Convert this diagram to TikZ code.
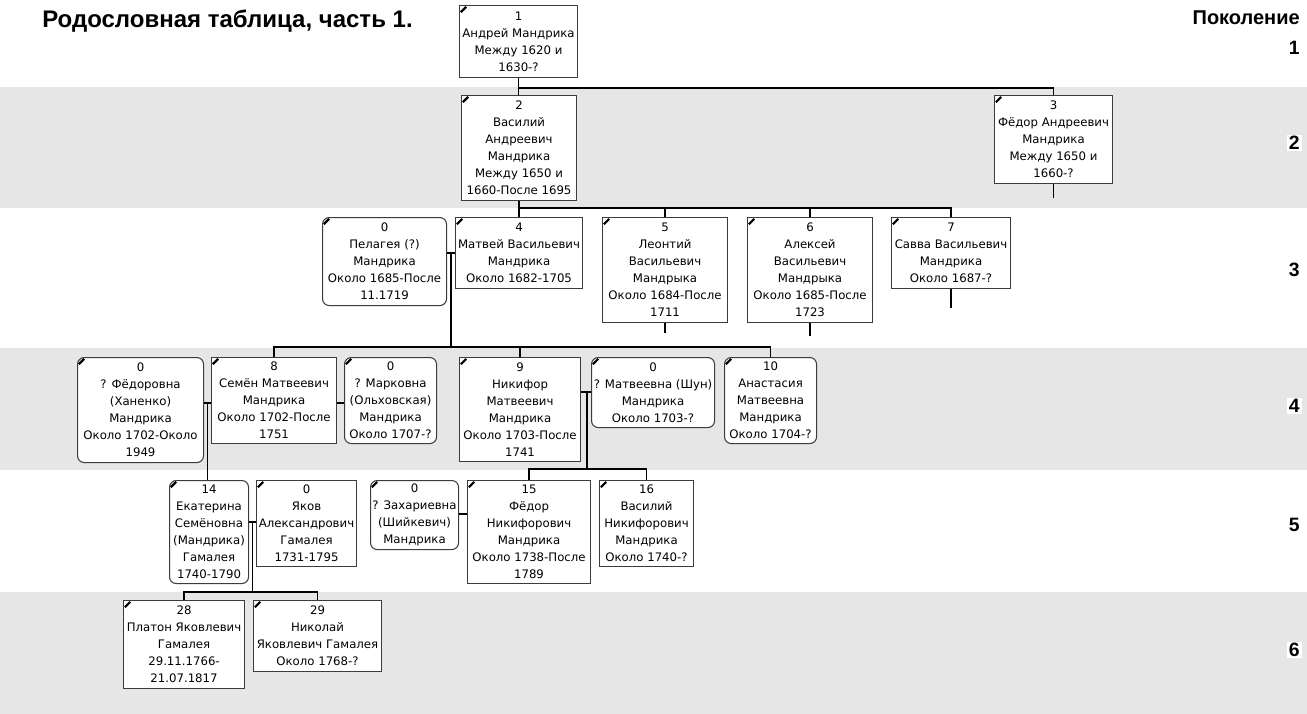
\documentclass[tikz,border=0pt]{standalone}
\usepackage{fontspec}
\setmainfont{DejaVu Sans}
\newfontfamily\headfont{Liberation Sans}
\usetikzlibrary{calc}
\definecolor{band}{RGB}{230,230,230}
\definecolor{boxline}{RGB}{60,60,60}
\tikzset{
  person/.style={draw=boxline, fill=white, line width=0.8pt, align=center,
    anchor=north west, inner sep=0pt,
    font=\fontsize{8.8pt}{12.75pt}\selectfont},
  spouse/.style={person, rounded corners=5pt},
  link/.style={draw=black, line width=1.2pt},
  cornermark/.style={draw=black, line width=1.6pt},
  gennum/.style={anchor=east, inner xsep=1.5pt, inner ysep=1pt,
    font=\headfont\bfseries\fontsize{14.5pt}{16pt}\selectfont},
}
\newcommand\pers[7]{%
  \node[#1, minimum width=#5*0.75pt, minimum height=#6*0.75pt] (#2) at (#3,#4) {#7};
  \draw[cornermark] ([shift={(1.8,7.2)}]#2.north west) -- ([shift={(7.2,1.8)}]#2.north west);
}
\begin{document}
\begin{tikzpicture}[x=0.75pt,y=-0.75pt]
\useasboundingbox (0,0) rectangle (1307,714);
% bands
\fill[band] (0,87) rectangle (1307,208);
\fill[band] (0,348) rectangle (1307,470);
\fill[band] (0,592) rectangle (1307,714);

% title and generation labels
\node[anchor=base west, inner sep=0pt, font=\headfont\bfseries\fontsize{18pt}{20pt}\selectfont] (title) at (42,27) {Родословная таблица, часть 1.};
\node[anchor=base east, inner sep=0pt, font=\headfont\bfseries\fontsize{15pt}{17pt}\selectfont] (gen) at (1300,24) {Поколение};
\node[gennum] (g1) at (1302,48) {1};
\node[gennum, fill=white] (g2) at (1302,143) {2};
\node[gennum] (g3) at (1302,270) {3};
\node[gennum, fill=white] (g4) at (1302,406) {4};
\node[gennum] (g5) at (1302,525) {5};
\node[gennum, fill=white] (g6) at (1302,650) {6};

% generation 1
\pers{person}{n1}{459}{5}{118}{72}{1\\Андрей Мандрика\\Между 1620 и\\1630-?}
% generation 2
\pers{person}{n2}{461}{95}{115}{105}{2\\Василий\\Андреевич\\Мандрика\\Между 1650 и\\1660-После 1695}
\pers{person}{n3}{994}{95}{118}{88}{3\\Фёдор Андреевич\\Мандрика\\Между 1650 и\\1660-?}
% generation 3
\pers{spouse}{p0}{322}{217}{124}{88}{0\\Пелагея (?)\\Мандрика\\Около 1685-После\\11.1719}
\pers{person}{n4}{455}{217}{127}{71}{4\\Матвей Васильевич\\Мандрика\\Около 1682-1705}
\pers{person}{n5}{602}{217}{125}{105}{5\\Леонтий\\Васильевич\\Мандрыка\\Около 1684-После\\1711}
\pers{person}{n6}{747}{217}{125}{105}{6\\Алексей\\Васильевич\\Мандрыка\\Около 1685-После\\1723}
\pers{person}{n7}{891}{217}{119}{71}{7\\Савва Васильевич\\Мандрика\\Около 1687-?}
% generation 4
\pers{spouse}{f0}{77}{357}{126}{105}{0\\? Фёдоровна\\(Ханенко)\\Мандрика\\Около 1702-Около\\1949}
\pers{person}{n8}{211}{357}{125}{86}{8\\Семён Матвеевич\\Мандрика\\Около 1702-После\\1751}
\pers{spouse}{m0}{344}{357}{92}{86}{0\\? Марковна\\(Ольховская)\\Мандрика\\Около 1707-?}
\pers{person}{n9}{459}{357}{121}{104}{9\\Никифор\\Матвеевич\\Мандрика\\Около 1703-После\\1741}
\pers{spouse}{s0}{591}{357}{123}{70}{0\\? Матвеевна (Шун)\\Мандрика\\Около 1703-?}
\pers{spouse}{n10}{724}{357}{92}{86}{10\\Анастасия\\Матвеевна\\Мандрика\\Около 1704-?}
% generation 5
\pers{spouse}{n14}{169}{480}{79}{103}{14\\Екатерина\\Семёновна\\(Мандрика)\\Гамалея\\1740-1790}
\pers{person}{y0}{256}{480}{100}{86}{0\\Яков\\Александрович\\Гамалея\\1731-1795}
\pers{spouse}{z0}{370}{480}{88}{69}{0\\? Захариевна\\(Шийкевич)\\Мандрика}
\pers{person}{n15}{467}{480}{123}{103}{15\\Фёдор\\Никифорович\\Мандрика\\Около 1738-После\\1789}
\pers{person}{n16}{599}{480}{94}{86}{16\\Василий\\Никифорович\\Мандрика\\Около 1740-?}
% generation 6
\pers{person}{n28}{123}{600}{121}{88}{28\\Платон Яковлевич\\Гамалея\\29.11.1766-\\21.07.1817}
\pers{person}{n29}{253}{600}{128}{71}{29\\Николай\\Яковлевич Гамалея\\Около 1768-?}

% connectors: gen 1 -> 2
\draw[link] (n1.south) -- ++(0,10) -| (n3.north);
\draw[link] (n1.south) -- (n1.south |- n2.north);
\draw[link] (n3.south) -- ++(0,14);
% gen 2 -> 3
\draw[link] (n2.south) -- (n2.south |- n4.north);
\coordinate (bar3) at ([shift={(0,-9)}]n4.north);
\draw[link] (bar3) -| (n7.north);
\draw[link] (n5.north) -- (n5.north |- bar3);
\draw[link] (n6.north) -- (n6.north |- bar3);
\draw[link] (n5.south) -- ++(0,10);
\draw[link] (n6.south) -- ++(0,13);
\draw[link] (n7.south) -- ++(0,19);
% marriage p0 - n4 and children
\coordinate (w34a) at ([shift={(0,36)}]p0.north east);
\coordinate (w34b) at ([shift={(0,36)}]n4.north west);
\draw[link] (w34a) -- (w34b);
\coordinate (m34) at ($(w34a)!0.5!(w34b)$);
\coordinate (bar4) at ([shift={(0,-10)}]n8.north);
\draw[link] (m34) -- (m34 |- bar4);
\draw[link] (n8.north) -- (bar4) -| (n10.north);
\draw[link] (n9.north) -- (n9.north |- bar4);
% marriage f0 - n8 and child
\coordinate (w48a) at ([shift={(0,46)}]f0.north east);
\coordinate (w48b) at ([shift={(0,46)}]n8.north west);
\draw[link] (w48a) -- (w48b);
\coordinate (m48) at ($(w48a)!0.5!(w48b)$);
\draw[link] (m48) -- (m48 |- n14.north);
% marriage n8 - m0
\draw[link] ([shift={(0,46)}]n8.north east) -- ([shift={(0,46)}]m0.north west);
% marriage n9 - s0 and children
\coordinate (w49a) at ([shift={(0,35)}]n9.north east);
\coordinate (w49b) at ([shift={(0,35)}]s0.north west);
\draw[link] (w49a) -- (w49b);
\coordinate (m49) at ($(w49a)!0.6!(w49b)$);
\coordinate (bar5) at ([shift={(0,-11)}]n15.north);
\draw[link] (m49) -- (m49 |- bar5);
\draw[link] (n15.north) -- (bar5) -| (n16.north);
% marriage z0 - n15
\draw[link] ([shift={(0,34)}]z0.north east) -- ([shift={(0,34)}]n15.north west);
% marriage n14 - y0 and children
\coordinate (w5a) at ([shift={(0,42)}]n14.north east);
\coordinate (w5b) at ([shift={(0,42)}]y0.north west);
\draw[link] (w5a) -- (w5b);
\coordinate (m5) at ($(w5a)!0.5!(w5b)$);
\coordinate (bar6) at ([shift={(0,-8)}]n28.north);
\draw[link] (m5) -- (m5 |- bar6);
\draw[link] (n28.north) -- (bar6) -| (n29.north);
\end{tikzpicture}
\end{document}
